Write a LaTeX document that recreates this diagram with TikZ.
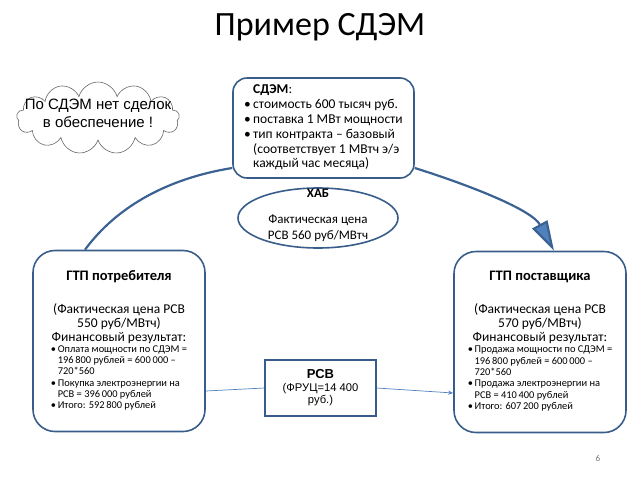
\documentclass[tikz,border=0pt]{standalone}
\usepackage{fontspec}
\setmainfont{Carlito}
\newfontfamily\arl{Liberation Sans}
\usetikzlibrary{arrows.meta,shapes.geometric,shapes.symbols}
\definecolor{bd}{RGB}{56,93,138}
\definecolor{ln}{RGB}{79,129,189}
\tikzset{bx/.style={draw=bd,line width=1.6pt,fill=white,rounded corners=14pt,align=center,inner sep=3pt},gtp/.style={bx,rounded corners=22pt,minimum width=172pt,minimum height=181pt,font=\fontsize{13.5}{14}\selectfont},arc/.style={draw=bd!85!ln,line width=2.2pt},lk/.style={ln,line width=0.7pt},cld/.style={draw=black!60,line width=0.6pt,cloud,cloud puffs=13,cloud ignores aspect,minimum width=163pt,minimum height=72pt,font=\arl\fontsize{15}{18}\selectfont}}
\newcommand\ctr[1]{\makebox[0pt]{\smash{\begin{tabular}{@{}c@{}}#1\end{tabular}}}}
\newcommand\hd[1]{{\fontsize{14.5}{14}\selectfont\bfseries #1}}
\newcommand\lst[1]{{\fontsize{10.4}{11.3}\selectfont\begin{tabular}{@{}l@{\,}l@{}}#1\end{tabular}}}

\begin{document}
\begin{tikzpicture}[x=1pt,y=-1pt]
\useasboundingbox(0,0)rectangle(640,480);
\node[font=\fontsize{34}{40}\selectfont](ttl)at(320,27){Пример СДЭМ};
\node[cld](cl)at(98,118){\ctr{По СДЭМ нет сделок\\в обеспечение !}};
\node[bx,minimum width=181pt,minimum height=100pt,font=\fontsize{13.5}{14.8}\selectfont](sdem)at(323.5,128){\begin{tabular}{@{}l@{\,}l@{}}&\textbf{СДЭМ}:\\\textbullet&стоимость 600 тысяч руб.\\\textbullet&поставка 1 МВт мощности\\\textbullet&тип контракта – базовый\\&(соответствует 1 МВтч э/э\\&каждый час месяца)\end{tabular}};
\node[draw=bd,line width=1.6pt,ellipse,fill=white,minimum width=160pt,minimum height=60pt,inner sep=0pt,font=\fontsize{13}{16}\selectfont](hub)at(318,218){\ctr{\textbf{ХАБ}\\[10pt]Фактическая цена\\РСВ 560 руб/МВтч}};
\node[gtp](potr)at(119,341){\hd{ГТП потребителя}\\[19pt](Фактическая цена РСВ\\550 руб/МВтч)\\Финансовый результат:\\\lst{\textbullet&Оплата мощности по СДЭМ =\\&196\,800 рублей = 600\,000 –\\&720*560\\\textbullet&Покупка электроэнергии на\\&РСВ = 396\,000 рублей\\\textbullet&Итого: 592\,800 рублей}};
\node[gtp](post)at(540,342){\hd{ГТП поставщика}\\[19pt](Фактическая цена РСВ\\570 руб/МВтч)\\Финансовый результат:\\\lst{\textbullet&Продажа мощности по СДЭМ =\\&196\,800 рублей = 600\,000 –\\&720*560\\\textbullet&Продажа электроэнергии на\\&РСВ = 410\,400 рублей\\\textbullet&Итого: 607\,200 рублей}};
\node[draw=bd,line width=1.6pt,minimum width=111pt,minimum height=56pt,align=center,font=\arl\fontsize{11.2}{12.5}\selectfont](rsv)at(320.5,388){{\fontsize{13}{15}\selectfont\bfseries РСВ}\\(ФРУЦ=14 400\\руб.)};
\node[black!55,font=\fontsize{9}{11}\selectfont](pg)at(598,458){6};
% kontrakt
\draw[arc]([xshift=-34pt]potr.north)..controls(118,205)and(170,178)..([yshift=-40pt]sdem.west);
\draw[arc,-{Triangle[length=30pt,width=17pt,fill=ln]}]([yshift=-40pt]sdem.east)..controls(472,186)and(532,210)..([xshift=14pt]post.north);
% rsv
\draw[lk]([yshift=-50pt]potr.east)--(rsv.west);
\draw[lk,-{Stealth[length=5pt,width=4pt]}](rsv.east)--([yshift=-51pt]post.west);
\end{tikzpicture}
\end{document}
